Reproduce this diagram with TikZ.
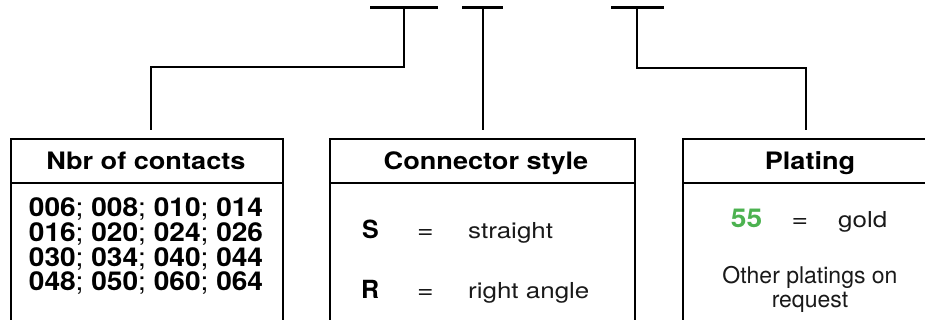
\documentclass[tikz,border=0pt]{standalone}
\usepackage{fontspec}
\setmainfont{TeX Gyre Heros}
\newfontfamily\hdrfont[FakeStretch=1.13]{TeX Gyre Heros}
\newfontfamily\numfont[FakeStretch=1.08]{TeX Gyre Heros}
\newfontfamily\bodyfont[FakeStretch=1.18]{TeX Gyre Heros}
\newfontfamily\platefont{TeX Gyre Heros}
\definecolor{green55}{RGB}{76,178,80}
\definecolor{ink}{RGB}{25,25,25}
\begin{document}
\begin{tikzpicture}[x=1pt,y=-1pt,
  bar/.style={line width=3pt},
  link/.style={line width=2pt},
  frame/.style={draw, line width=2pt, rectangle, inner sep=0pt, anchor=north west},
  hdr/.style={font=\hdrfont\bfseries\fontsize{24}{28}\selectfont, anchor=base, inner sep=0pt},
  num/.style={font=\numfont\fontsize{26}{30}\selectfont, anchor=base, inner sep=0pt},
  key/.style={font=\platefont\bfseries\fontsize{25}{29}\selectfont, anchor=base, inner sep=0pt},
  eqs/.style={font=\bodyfont\fontsize{24}{28}\selectfont, anchor=base, inner sep=0pt, text=ink},
  txt/.style={font=\bodyfont\fontsize{22}{26}\selectfont, anchor=base, inner sep=0pt, text=ink},
  small/.style={font=\platefont\fontsize{23}{27}\selectfont, anchor=base, inner sep=0pt, text=ink}]
\useasboundingbox (0,0) rectangle (925,320);
\clip (0,0) rectangle (925,320);
% top bars
\draw[bar] (370,8) -- (438,8);
\draw[bar] (462,8) -- (503,8);
\draw[bar] (611,8) -- (664,8);
\coordinate (t1) at (404,8);
\coordinate (t2) at (483,8);
\coordinate (t3) at (637,8);
\coordinate (k1) at (151,67);
\coordinate (k3) at (806,68);
\coordinate (e1) at (151,130);
\coordinate (e2) at (483,130);
\coordinate (e3) at (806,130);
% boxes
\node[frame, minimum width=272pt, minimum height=200pt] (box1) at (10,138) {};
\node[frame, minimum width=305pt, minimum height=200pt] (box2) at (329,138) {};
\node[frame, minimum width=256pt, minimum height=200pt] (box3) at (682,138) {};
\draw[link] (10,183) -- (282,183);
\draw[link] (329,183) -- (634,183);
\draw[link] (682,183) -- (938,183);
% connectors
\draw[link] (t1) |- (k1) -- (e1);
\draw[link] (t2) -- (e2);
\draw[link] (t3) |- (k3) -- (e3);
% headers
\node[hdr] (h1) at (146,170) {Nbr of contacts};
\node[hdr] (h2) at (486,170) {Connector style};
\node[hdr] (h3) at (810,170) {Plating};
% contacts
\node[num] (n1) at (146,217) {\textbf{006}; \textbf{008}; \textbf{010}; \textbf{014}};
\node[num] (n2) at (146,241.5) {\textbf{016}; \textbf{020}; \textbf{024}; \textbf{026}};
\node[num] (n3) at (146,266) {\textbf{030}; \textbf{034}; \textbf{040}; \textbf{044}};
\node[num] (n4) at (146,290.5) {\textbf{048}; \textbf{050}; \textbf{060}; \textbf{064}};
% connector style
\node[key, anchor=base west] (s) at (362,238) {S};
\node[eqs] (eq1) at (425.5,238) {=};
\node[txt, anchor=base west] (st) at (468,238) {straight};
\node[key, anchor=base west] (r) at (361,298) {R};
\node[eqs] (eq2) at (425.5,298) {=};
\node[txt, anchor=base west] (ra) at (468,298) {right angle};
% plating
\node[num, font=\numfont\bfseries\fontsize{26}{30}\selectfont, text=green55] (g55) at (746.5,227) {55};
\node[eqs] (eq3) at (800,227) {=};
\node[txt, anchor=base west] (gold) at (838,227) {gold};
\node[small] (o1) at (810,283) {Other platings on};
\node[small] (o2) at (810,307) {request};
\end{tikzpicture}
\end{document}
